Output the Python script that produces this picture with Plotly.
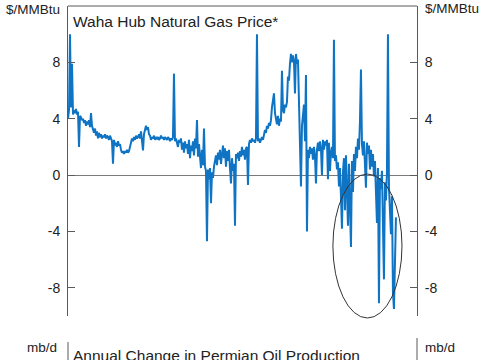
import pandas as pd
import plotly.graph_objects as go

# Waha Hub natural gas price, $/MMBtu (roughly biweekly, Jan 2014 - spring 2026)
price = [
    4.0, 4.6, 10.0, 4.8, 7.9, 4.3, 4.6, 4.4, 4.7, 4.3,
    4.5, 2.0, 4.2, 4.1, 3.9, 4.0, 3.7, 3.9, 3.5, 3.8,
    3.6, 3.9, 3.4, 4.4, 3.5, 3.2, 3.0, 3.3, 2.8, 3.1,
    2.6, 3.0, 2.7, 2.9, 2.6, 2.8, 2.7, 2.9, 2.6, 2.8,
    2.7, 2.5, 2.8, 2.6, 2.4, 0.8, 2.5, 2.1, 2.3, 2.0,
    2.4, 2.1, 2.2, 1.8, 1.6, 1.7, 1.5, 1.7, 1.6, 1.8,
    1.6, 1.7, 2.0, 2.5, 2.6, 2.4, 2.7, 2.5, 2.8, 2.6,
    2.7, 2.9, 2.6, 3.1, 2.4, 1.75, 2.9, 3.2, 3.5, 3.2,
    3.4, 2.9, 2.8, 2.5, 2.7, 2.6, 2.8, 2.5, 2.7, 2.6,
    2.7, 2.5, 2.6, 2.8, 2.6, 2.7, 2.5, 2.7, 2.6, 2.5,
    2.7, 2.6, 2.4, 2.6, 2.5, 2.7, 7.2, 2.4, 2.6, 2.2,
    2.0, 2.5, 2.3, 2.6, 1.8, 2.3, 1.6, 2.4, 1.9, 2.2,
    1.5, 2.5, 1.2, 2.1, 1.7, 2.4, 1.4, 2.6, 1.9, 3.9,
    1.3, 2.2, 0.9, 0.5, 1.8, 0.7, 3.3, 0.6, 0.3, -4.7,
    0.4, -0.3, 0.5, -2.0, 0.2, -0.2, 0.6, 0.9, 1.4, 0.7,
    1.6, 1.1, 1.8, 0.8, 1.5, 2.1, 1.2, 1.9, 0.6, 1.7,
    1.0, 1.8, 0.5, -0.6, 1.2, 0.3, 0.8, -3.6, 1.5, 1.2,
    1.6, 1.0, 1.7, 1.3, 2.0, 1.4, 1.8, 1.1, 1.9, 2.0,
    -0.7, 2.2, 2.5, 2.3, 2.6, 2.4, 2.5, 2.3, 2.6, 10.0,
    2.4, 2.6, 2.3, 2.5, 2.7, 2.5, 2.8, 3.2, 3.0, 3.5,
    3.3, 3.7, 3.5, 3.9, 4.8, 5.2, 5.8, 4.4, 4.0, 3.6,
    4.2, 3.5, 4.0, 3.8, 7.4, 4.6, 4.4, 5.0, 4.8, 5.2,
    7.0, 6.7, 7.9, 8.6, 8.0, 8.5, 8.1, 5.8, 8.6, 7.9,
    8.2, 5.0, 2.7, -0.8, 3.5, 4.4, 5.0, 2.4, 7.1, -4.0,
    1.8, 1.2, 2.0, 1.5, 1.9, 1.1, 2.0, 1.4, -0.6, 1.8,
    2.3, 1.7, 2.4, 1.9, 0.0, 2.5, 1.8, 2.4, 2.1, 2.5,
    -0.3, 2.3, 0.3, 1.6, 2.0, 1.2, 9.6, 1.0, 1.4, 0.4,
    0.9, -0.8, 0.5, -1.5, -3.8, 0.2, 1.2, -2.5, 1.4, -1.0,
    -3.6, 0.8, -2.0, -5.1, 1.0, -1.2, 1.5, 0.3, 2.0, 1.2,
    2.6, 1.8, 3.8, 7.5, 2.2, 1.4, 2.4, 0.9, -0.9, 2.3,
    1.5, 2.1, 0.4, 1.8, 0.6, 1.5, -0.1, 1.0, -1.5, -3.4,
    0.5, -9.1, -0.2, -1.0, 0.3, -2.5, -7.4, -0.5, -1.8, 0.2,
    10.0, -0.8, -2.5, -4.2, -1.5, -8.3, -9.5, -5.5, -3.0,
]
dates = pd.date_range("2014-01-01", "2026-05-01", periods=len(price))

y_ticks = [-8, -4, 0, 4, 8]
y_tick_text = ["-8", "-4", "0", "4", "8"]
y_range = [-10, 12]
x_range = ["2014-01-01", "2027-02-14"]

title_top = "Waha Hub Natural Gas Price*"
title_bottom = "Annual Change in Permian Oil Production"
unit_top = "$/MMBtu"
unit_bottom = "mb/d"

FONT = "Liberation Sans, Arial, sans-serif"
AX = "#5a5a5a"
TXT = "#222222"

fig = go.Figure()
fig.add_trace(go.Scatter(x=dates, y=price, mode="lines",
                         line=dict(color="#0f74c4", width=2),
                         hoverinfo="skip", showlegend=False))
fig.add_trace(go.Scatter(x=[dates[0]], y=[0], yaxis="y2", mode="markers",
                         marker=dict(opacity=0), hoverinfo="skip", showlegend=False))

common_y = dict(range=y_range, tickvals=y_ticks, ticktext=y_tick_text,
                ticks="inside", ticklen=7,
                tickcolor=AX, tickwidth=1, showline=True, linecolor=AX, linewidth=1,
                showgrid=False, tickfont=dict(family=FONT, size=14, color=TXT))

fig.update_layout(
    width=485, height=360,
    margin=dict(l=68, r=68, t=6, b=44),
    paper_bgcolor="white", plot_bgcolor="white",
    font=dict(family=FONT, color=TXT),
    hovermode=False,
    xaxis=dict(range=x_range, showline=False, showticklabels=False, ticks="",
               showgrid=False, zeroline=False),
    yaxis=dict(**common_y, zeroline=True, zerolinecolor="#7a7a7a", zerolinewidth=1,
               ticklabelstandoff=4),
    yaxis2=dict(**common_y, overlaying="y", side="right", zeroline=False,
                ticklabelstandoff=4),
    shapes=[
        dict(type="line", xref="paper", yref="paper", x0=0, x1=1, y0=1, y1=1,
             line=dict(color=AX, width=1)),
        dict(type="circle", xref="paper", yref="paper",
             x0=0.759, x1=0.957, y0=-0.0065, y1=0.458,
             line=dict(color="#333333", width=1)),
        dict(type="line", xref="paper", yref="paper", x0=0, x1=0, y0=-0.084, y1=-0.15,
             line=dict(color=AX, width=1)),
        dict(type="line", xref="paper", yref="paper", x0=1, x1=1, y0=-0.071, y1=-0.15,
             line=dict(color=AX, width=1)),
    ],
    annotations=[
        dict(text=unit_top, xref="paper", yref="paper", x=-0.0172, y=0.990,
             xanchor="right", yanchor="middle", showarrow=False,
             font=dict(family=FONT, size=13.5, color=TXT)),
        dict(text=unit_top, xref="paper", yref="paper", x=1.0172, y=0.993,
             xanchor="left", yanchor="middle", showarrow=False,
             font=dict(family=FONT, size=13.5, color=TXT)),
        dict(text=title_top, xref="paper", yref="paper", x=0.010, y=0.9516,
             xanchor="left", yanchor="middle", showarrow=False,
             font=dict(family=FONT, size=15.5, color=TXT)),
        dict(text=unit_bottom, xref="paper", yref="paper", x=-0.0258, y=-0.103,
             xanchor="right", yanchor="middle", showarrow=False,
             font=dict(family=FONT, size=13.5, color=TXT)),
        dict(text=unit_bottom, xref="paper", yref="paper", x=1.0172, y=-0.100,
             xanchor="left", yanchor="middle", showarrow=False,
             font=dict(family=FONT, size=13.5, color=TXT)),
        dict(text=title_bottom, xref="paper", yref="paper", x=0.010, y=-0.126,
             xanchor="left", yanchor="middle", showarrow=False,
             font=dict(family=FONT, size=15.5, color=TXT)),
    ],
)

fig.write_html("out.html", config={"displayModeBar": False},
               post_script="document.body.style.margin='0px';")
